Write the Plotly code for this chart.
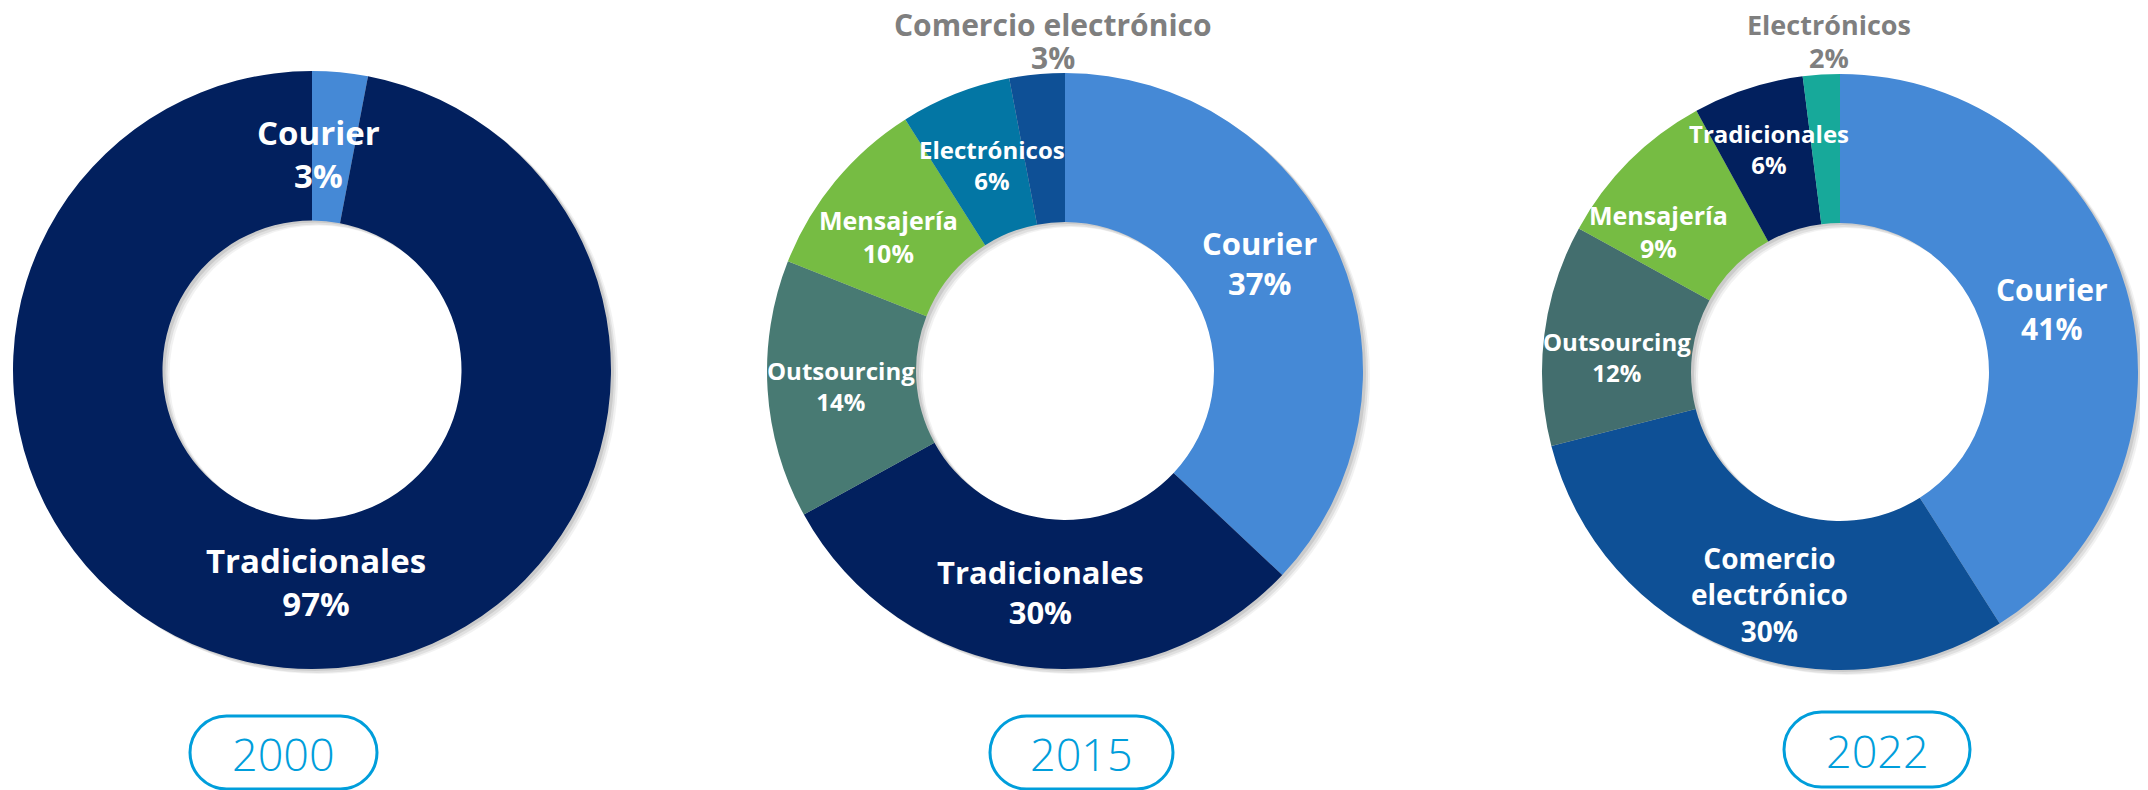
import plotly.graph_objects as go

# ---------------- data ----------------
years = ["2000", "2015", "2022"]

labels_2000 = ["Courier", "Tradicionales"]
values_2000 = [3, 97]

labels_2015 = ["Courier", "Tradicionales", "Outsourcing", "Mensajería", "Electrónicos", "Comercio electrónico"]
values_2015 = [37, 30, 14, 10, 6, 3]

labels_2022 = ["Courier", "Comercio electrónico", "Outsourcing", "Mensajería", "Tradicionales", "Electrónicos"]
values_2022 = [41, 30, 12, 9, 6, 2]

# ---------------- style ----------------
OFF = 8                      # default page (body) margin of the html page
W, H = 2148 - OFF, 790 - OFF
colors_2000 = ["#4589D6", "#02205E"]
colors_2015 = ["#4589D6", "#02205E", "#487A73", "#76BC43", "#0376A4", "#0E5096"]
colors_2022 = ["#4589D6", "#0E5096", "#436E6E", "#76BC43", "#02205E", "#17A99A"]

# donut centre / radius in screen pixels
donuts = [(312, 370, 299), (1065, 371, 298), (1840, 372, 298)]

# label placement (screen pixels), font size, colour, outside(=separate lines)
pos_2000 = [(318, 154, 33, "white", False), (316, 582, 33, "white", False)]
pos_2015 = [(1259, 263, 31, "white", False), (1040, 592, 31, "white", False),
            (841, 386, 24, "white", False), (888, 236, 25, "white", False),
            (992, 165, 24, "white", False), (1053, 24, 30, "#7F7F7F", True)]
pos_2022 = [(2052, 309, 30, "white", False), (1769, 594, 28, "white", False),
            (1617, 357, 24, "white", False), (1658, 231, 25, "white", False),
            (1769, 149, 24, "white", False), (1829, 24, 27, "#7F7F7F", True)]
outside_line_gap = 33
break_2022 = {"Comercio electrónico": "Comercio<br>electrónico"}

# year boxes (x0, x1, y0, y1) screen pixels
boxes = [(190, 377, 716, 789), (990, 1173, 716, 789), (1784, 1970, 712, 787)]
box_color = "#009EDB"

FONT = "Open Sans"

fig = go.Figure()


def px(x, y):
    return x - OFF, y - OFF


def dom(cx, cy, r):
    cx, cy = px(cx, cy)
    return dict(x=[(cx - r) / W, (cx + r) / W], y=[1 - (cy + r) / H, 1 - (cy - r) / H])


charts = [
    (labels_2000, values_2000, colors_2000, pos_2000, {}),
    (labels_2015, values_2015, colors_2015, pos_2015, {}),
    (labels_2022, values_2022, colors_2022, pos_2022, break_2022),
]

annotations = []


def add_text(x, y, text, fs, col):
    ax, ay = px(x, y)
    annotations.append(dict(
        x=ax, y=ay, xref="x", yref="y", showarrow=False, text=text,
        font=dict(family=FONT, size=fs, color=col),
        xanchor="center", yanchor="middle", align="center"))


for (labels, values, colors, pos, brk), (cx, cy, r) in zip(charts, donuts):
    # soft shadow
    for dx, dy, op in [(7, 5, 0.05), (5, 4, 0.07), (3, 2, 0.09)]:
        fig.add_trace(go.Pie(values=[1], labels=["s"], hole=0.5, sort=False,
                             marker=dict(colors=["#000000"], line=dict(width=0)),
                             opacity=op, textinfo="none", hoverinfo="skip",
                             showlegend=False, domain=dom(cx + dx, cy + dy, r)))
    fig.add_trace(go.Pie(values=values, labels=labels, hole=0.5, sort=False,
                         direction="clockwise", rotation=0,
                         marker=dict(colors=colors, line=dict(width=0)),
                         textinfo="none", hoverinfo="label+percent",
                         showlegend=False, domain=dom(cx, cy, r)))
    for lab, val, (x, y, fs, col, outside) in zip(labels, values, pos):
        if outside:
            add_text(x, y, f"<b>{lab}</b>", fs, col)
            add_text(x, y + outside_line_gap, f"<b>{val}%</b>", fs, col)
        else:
            add_text(x, y, f"<b>{brk.get(lab, lab)}<br>{val}%</b>", fs, col)

shapes = []
for (x0, x1, y0, y1), yr in zip(boxes, years):
    x0, y0 = px(x0, y0)
    x1, y1 = px(x1, y1)
    rr = (y1 - y0) / 2
    k = 0.5523 * rr
    path = (f"M {x0 + rr},{y0} L {x1 - rr},{y0} "
            f"C {x1 - rr + k},{y0} {x1},{y0 + rr - k} {x1},{y0 + rr} "
            f"C {x1},{y0 + rr + k} {x1 - rr + k},{y1} {x1 - rr},{y1} "
            f"L {x0 + rr},{y1} "
            f"C {x0 + rr - k},{y1} {x0},{y0 + rr + k} {x0},{y0 + rr} "
            f"C {x0},{y0 + rr - k} {x0 + rr - k},{y0} {x0 + rr},{y0} Z")
    shapes.append(dict(type="path", path=path, xref="x", yref="y",
                       line=dict(color=box_color, width=3), fillcolor="rgba(0,0,0,0)"))
    annotations.append(dict(x=(x0 + x1) / 2, y=(y0 + y1) / 2 + 1, xref="x", yref="y",
                            showarrow=False, text=yr,
                            font=dict(family=FONT, size=45, color=box_color, weight=300),
                            xanchor="center", yanchor="middle"))

fig.update_layout(
    width=W, height=H, margin=dict(l=0, r=0, t=0, b=0),
    paper_bgcolor="white", plot_bgcolor="rgba(0,0,0,0)",
    xaxis=dict(range=[0, W], visible=False, fixedrange=True),
    yaxis=dict(range=[H, 0], visible=False, fixedrange=True),
    shapes=shapes, annotations=annotations,
)

fig.write_html("out.html")
